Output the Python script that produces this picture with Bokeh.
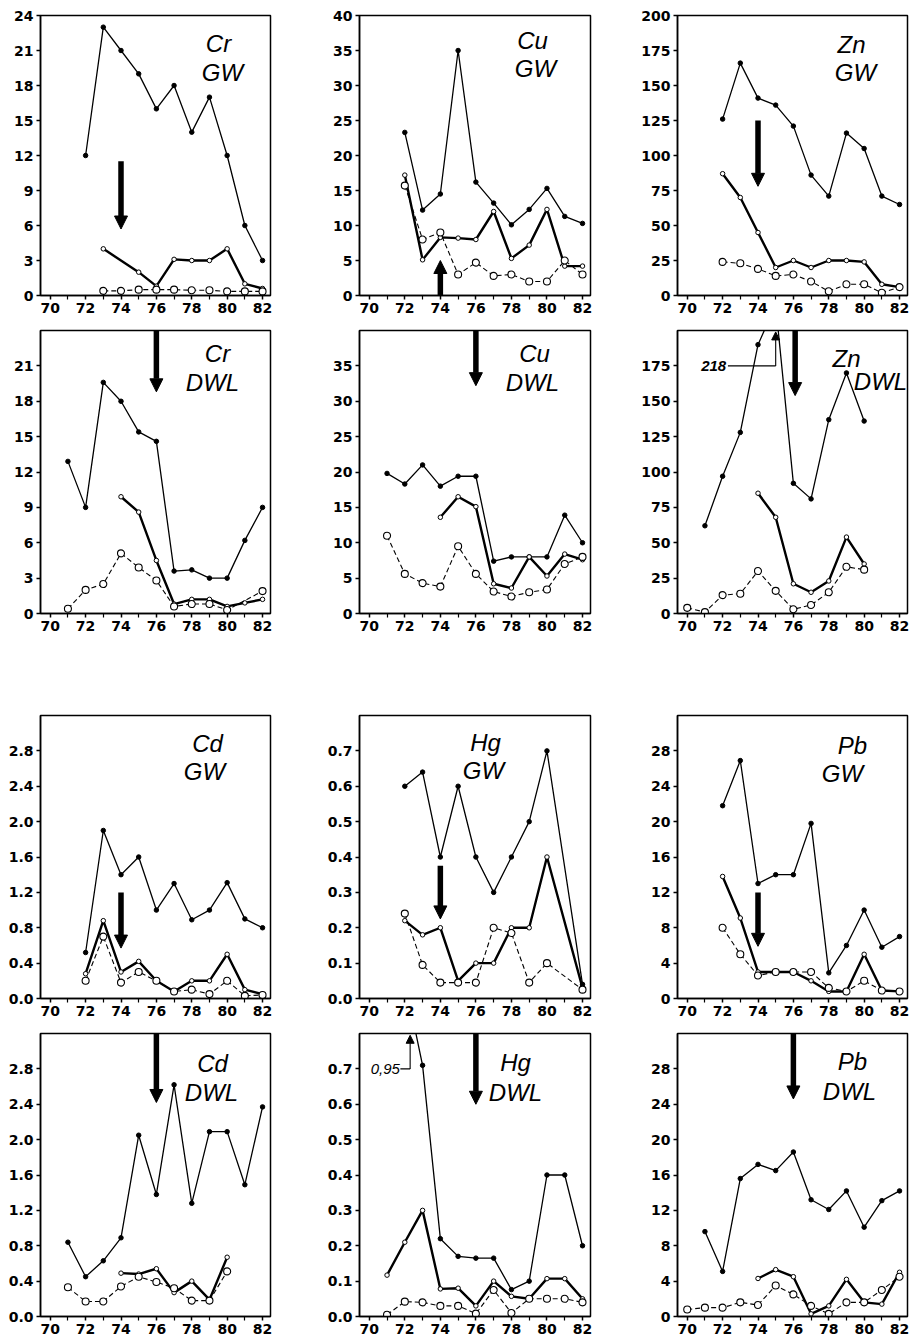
from bokeh.plotting import figure
from bokeh.layouts import column, row
from bokeh.models import FixedTicker, PrintfTickFormatter, Range1d, Label, Arrow, NormalHead
from bokeh.embed import file_html
from bokeh.resources import INLINE

# ---------------- data ----------------
x_ticks = [70, 72, 74, 76, 78, 80, 82]
x_minor = [71, 73, 75, 77, 79, 81]

# Cr GW
cr_gw_hi_x = [72, 73, 74, 75, 76, 77, 78, 79, 80, 81, 82]
cr_gw_hi = [12, 23, 21, 19, 16, 18, 14, 17, 12, 6, 3]
cr_gw_mid_x = [73, 75, 76, 77, 78, 79, 80, 81, 82]
cr_gw_mid = [4, 2, 0.8, 3.1, 3, 3, 4, 1, 0.6]
cr_gw_low_x = [73, 74, 75, 76, 77, 78, 79, 80, 81, 82]
cr_gw_low = [0.4, 0.4, 0.5, 0.5, 0.5, 0.45, 0.45, 0.35, 0.35, 0.35]

# Cu GW
cu_gw_hi_x = [72, 73, 74, 75, 76, 77, 78, 79, 80, 81, 82]
cu_gw_hi = [23.3, 12.2, 14.5, 35, 16.2, 13.2, 10.1, 12.3, 15.3, 11.3, 10.3]
cu_gw_mid_x = [72, 73, 74, 75, 76, 77, 78, 79, 80, 81, 82]
cu_gw_mid = [17.2, 5.1, 8.3, 8.2, 8, 12, 5.3, 7.2, 12.3, 4.2, 4.2]
cu_gw_low_x = [72, 73, 74, 75, 76, 77, 78, 79, 80, 81, 82]
cu_gw_low = [15.7, 8, 9, 3, 4.7, 2.8, 3, 2, 2, 5, 3]

# Zn GW
zn_gw_hi_x = [72, 73, 74, 75, 76, 77, 78, 79, 80, 81, 82]
zn_gw_hi = [126, 166, 141, 136, 121, 86, 71, 116, 105, 71, 65]
zn_gw_mid_x = [72, 73, 74, 75, 76, 77, 78, 79, 80, 81, 82]
zn_gw_mid = [87, 70, 45, 20, 25, 20, 25, 25, 24, 8, 6]
zn_gw_low_x = [72, 73, 74, 75, 76, 77, 78, 79, 80, 81, 82]
zn_gw_low = [24, 23, 19, 14, 15, 10, 3, 8, 8, 2, 6]

# Cr DWL
cr_dwl_hi_x = [71, 72, 73, 74, 75, 76, 77, 78, 79, 80, 81, 82]
cr_dwl_hi = [12.9, 9, 19.6, 18, 15.4, 14.6, 3.6, 3.7, 3, 3, 6.2, 9]
cr_dwl_mid_x = [74, 75, 76, 77, 78, 79, 80, 81, 82]
cr_dwl_mid = [9.9, 8.6, 4.5, 0.8, 1.2, 1.2, 0.6, 0.9, 1.2]
cr_dwl_low_x = [71, 72, 73, 74, 75, 76, 77, 78, 79, 80, 82]
cr_dwl_low = [0.4, 2, 2.5, 5.1, 3.9, 2.8, 0.6, 0.8, 0.8, 0.3, 1.9]

# Cu DWL
cu_dwl_hi_x = [71, 72, 73, 74, 75, 76, 77, 78, 79, 80, 81, 82]
cu_dwl_hi = [19.8, 18.3, 21, 18, 19.4, 19.4, 7.4, 8, 8, 8, 13.9, 10]
cu_dwl_mid_x = [74, 75, 76, 77, 78, 79, 80, 81, 82]
cu_dwl_mid = [13.6, 16.5, 15.1, 4.2, 3.6, 8, 5.3, 8.4, 7.6]
cu_dwl_low_x = [71, 72, 73, 74, 75, 76, 77, 78, 79, 80, 81, 82]
cu_dwl_low = [11, 5.6, 4.3, 3.8, 9.5, 5.6, 3.1, 2.4, 3, 3.4, 7, 8]

# Zn DWL
zn_dwl_hi_x = [71, 72, 73, 74, 75, 76, 77, 78, 79, 80]
zn_dwl_hi = [62, 97, 128, 190, 218, 92, 81, 137, 170, 136]
zn_dwl_mid_x = [74, 75, 76, 77, 78, 79, 80]
zn_dwl_mid = [85, 68, 21, 15, 23, 54, 35]
zn_dwl_low_x = [70, 71, 72, 73, 74, 75, 76, 77, 78, 79, 80]
zn_dwl_low = [4, 1, 13, 14, 30, 16, 3, 6, 15, 33, 31]

# Cd GW
cd_gw_hi_x = [72, 73, 74, 75, 76, 77, 78, 79, 80, 81, 82]
cd_gw_hi = [0.52, 1.9, 1.4, 1.6, 1.0, 1.3, 0.89, 1.0, 1.31, 0.9, 0.8]
cd_gw_mid_x = [72, 73, 74, 75, 76, 77, 78, 79, 80, 81, 82]
cd_gw_mid = [0.28, 0.88, 0.3, 0.42, 0.2, 0.08, 0.2, 0.2, 0.5, 0.1, 0.05]
cd_gw_low_x = [72, 73, 74, 75, 76, 77, 78, 79, 80, 81, 82]
cd_gw_low = [0.2, 0.7, 0.18, 0.3, 0.2, 0.08, 0.1, 0.05, 0.2, 0.03, 0.04]

# Hg GW
hg_gw_hi_x = [72, 73, 74, 75, 76, 77, 78, 79, 80, 82]
hg_gw_hi = [0.6, 0.64, 0.4, 0.6, 0.4, 0.3, 0.4, 0.5, 0.7, 0.04]
hg_gw_mid_x = [72, 73, 74, 75, 76, 77, 78, 79, 80, 82]
hg_gw_mid = [0.22, 0.18, 0.2, 0.05, 0.1, 0.1, 0.2, 0.2, 0.4, 0.03]
hg_gw_low_x = [72, 73, 74, 75, 76, 77, 78, 79, 80, 82]
hg_gw_low = [0.24, 0.095, 0.045, 0.045, 0.045, 0.2, 0.185, 0.045, 0.1, 0.025]

# Pb GW
pb_gw_hi_x = [72, 73, 74, 75, 76, 77, 78, 79, 80, 81, 82]
pb_gw_hi = [21.8, 26.9, 13, 14, 14, 19.8, 2.9, 6, 10, 5.8, 7]
pb_gw_mid_x = [72, 73, 74, 75, 76, 77, 78, 79, 80, 81, 82]
pb_gw_mid = [13.8, 9.1, 3, 3, 3, 2, 0.8, 0.8, 5, 0.9, 0.8]
pb_gw_low_x = [72, 73, 74, 75, 76, 77, 78, 79, 80, 81, 82]
pb_gw_low = [8, 5, 2.6, 3, 3, 3, 1.2, 0.8, 2, 0.9, 0.8]

# Cd DWL
cd_dwl_hi_x = [71, 72, 73, 74, 75, 76, 77, 78, 79, 80, 81, 82]
cd_dwl_hi = [0.84, 0.45, 0.63, 0.89, 2.05, 1.38, 2.62, 1.28, 2.09, 2.09, 1.49, 2.37]
cd_dwl_mid_x = [74, 75, 76, 77, 78, 79, 80]
cd_dwl_mid = [0.49, 0.48, 0.54, 0.27, 0.4, 0.19, 0.67]
cd_dwl_low_x = [71, 72, 73, 74, 75, 76, 77, 78, 79, 80]
cd_dwl_low = [0.33, 0.17, 0.17, 0.34, 0.45, 0.39, 0.32, 0.18, 0.18, 0.51]

# Hg DWL
hg_dwl_hi_x = [72, 73, 74, 75, 76, 77, 78, 79, 80, 81, 82]
hg_dwl_hi = [0.95, 0.71, 0.22, 0.17, 0.165, 0.165, 0.076, 0.1, 0.4, 0.4, 0.2]
hg_dwl_mid_x = [71, 72, 73, 74, 75, 76, 77, 78, 79, 80, 81, 82]
hg_dwl_mid = [0.117, 0.21, 0.3, 0.078, 0.08, 0.03, 0.1, 0.057, 0.05, 0.107, 0.107, 0.05]
hg_dwl_low_x = [71, 72, 73, 74, 75, 76, 77, 78, 79, 80, 81, 82]
hg_dwl_low = [0.005, 0.042, 0.04, 0.03, 0.03, 0.008, 0.075, 0.01, 0.05, 0.05, 0.05, 0.04]

# Pb DWL
pb_dwl_hi_x = [71, 72, 73, 74, 75, 76, 77, 78, 79, 80, 81, 82]
pb_dwl_hi = [9.6, 5.1, 15.6, 17.2, 16.5, 18.6, 13.2, 12.1, 14.2, 10.1, 13.1, 14.2]
pb_dwl_mid_x = [74, 75, 76, 77, 78, 79, 80, 81, 82]
pb_dwl_mid = [4.3, 5.3, 4.5, 0.3, 1.2, 4.2, 1.6, 1.4, 5]
pb_dwl_low_x = [70, 71, 72, 73, 74, 75, 76, 77, 78, 79, 80, 81, 82]
pb_dwl_low = [0.8, 1.0, 1.0, 1.6, 1.3, 3.5, 2.5, 1.2, 0.3, 1.6, 1.6, 3, 4.5]

# y tick labels
cr_ticks_gw = [0, 3, 6, 9, 12, 15, 18, 21, 24]
cr_ticks_dwl = [0, 3, 6, 9, 12, 15, 18, 21]
cu_ticks_gw = [0, 5, 10, 15, 20, 25, 30, 35, 40]
cu_ticks_dwl = [0, 5, 10, 15, 20, 25, 30, 35]
zn_ticks_gw = [0, 25, 50, 75, 100, 125, 150, 175, 200]
zn_ticks_dwl = [0, 25, 50, 75, 100, 125, 150, 175]
cd_ticks = [0.0, 0.4, 0.8, 1.2, 1.6, 2.0, 2.4, 2.8]
hg_ticks = [0.0, 0.1, 0.2, 0.3, 0.4, 0.5, 0.6, 0.7]
pb_ticks = [0, 4, 8, 12, 16, 20, 24, 28]

# ---------------- layout ----------------
X0, X1 = 69.45, 82.45
COL_FW = [230, 231, 230]
COL_LEFT = [40, 70, 70]
COL_RIGHT = [19, 17, 3]
ROW_FH = [280, 283, 283, 283]
ROW_TOP = [15, 8, 75, 8]
ROW_BOTTOM = [27, 27, 27, 26]

TICK_FONT = "DejaVu Sans"
LABEL_FONT = "Liberation Sans"


def make_panel(r, c, ymax, yticks, fmt, hi_x, hi, mid_x, mid, low_x, low,
               name1, name2, pos1, pos2, arrow):
    fw, fh = COL_FW[c], ROW_FH[r]
    p = figure(title=None, frame_width=fw, frame_height=fh,
               x_range=Range1d(X0, X1), y_range=Range1d(0, ymax),
               toolbar_location=None, output_backend="svg",
               min_border_left=COL_LEFT[c], min_border_right=COL_RIGHT[c],
               min_border_top=ROW_TOP[r], min_border_bottom=ROW_BOTTOM[r])
    p.grid.visible = False
    p.outline_line_color = "black"
    p.outline_line_width = 1.5
    p.background_fill_color = "white"
    p.border_fill_color = "white"

    p.xaxis.ticker = FixedTicker(ticks=x_ticks, minor_ticks=x_minor)
    p.yaxis.ticker = FixedTicker(ticks=yticks)
    if fmt:
        p.yaxis.formatter = PrintfTickFormatter(format=fmt)
    for ax in (p.xaxis, p.yaxis):
        ax.axis_line_color = "black"
        ax.axis_line_width = 1.5
        ax.major_tick_line_width = 1.5
        ax.major_tick_out = 4
        ax.major_tick_in = 0
        ax.minor_tick_out = 4
        ax.minor_tick_in = 0
        ax.minor_tick_line_width = 1.2
        ax.major_label_text_font = TICK_FONT
        ax.major_label_text_font_style = "bold"
        ax.major_label_text_font_size = "14px"
        ax.major_label_text_color = "black"
        ax.major_label_standoff = 3
    p.yaxis.minor_tick_line_color = None

    # thin line with filled dots
    p.line(hi_x, hi, line_color="black", line_width=1.3)
    p.scatter(hi_x, hi, size=4.5, marker="circle", fill_color="black", line_color="black")
    # thick line with small open circles
    p.line(mid_x, mid, line_color="black", line_width=2.4)
    p.scatter(mid_x, mid, size=4.5, marker="circle", fill_color="white", line_color="black", line_width=1)
    # dashed line with larger open circles
    p.line(low_x, low, line_color="black", line_width=1.1, line_dash="5 3")
    p.scatter(low_x, low, size=7, marker="circle", fill_color="white", line_color="black", line_width=1.1)

    def to_data(dx, dy):
        return (X0 + dx * (X1 - X0) / fw, ymax - dy * ymax / fh)

    for txt, (dx, dy) in ((name1, pos1), (name2, pos2)):
        lx, ly = to_data(dx, dy - 4)
        p.add_layout(Label(x=lx, y=ly, text=txt, text_font=LABEL_FONT,
                           text_font_style="italic", text_font_size="24px",
                           text_align="center", text_baseline="top", text_color="black"))

    ax_, ys, ye = arrow
    p.add_layout(Arrow(end=NormalHead(size=13, fill_color="black", line_color="black", line_width=1),
                       x_start=ax_, y_start=ys, x_end=ax_, y_end=ye,
                       line_width=5.5, line_color="black"))
    return p


panels = []
panels.append(make_panel(0, 0, 24, cr_ticks_gw, None, cr_gw_hi_x, cr_gw_hi, cr_gw_mid_x, cr_gw_mid,
                         cr_gw_low_x, cr_gw_low, "Cr", "GW", (178, 18), (182, 47), (74, 11.5, 5.7)))
panels.append(make_panel(0, 1, 40, cu_ticks_gw, None, cu_gw_hi_x, cu_gw_hi, cu_gw_mid_x, cu_gw_mid,
                         cu_gw_low_x, cu_gw_low, "Cu", "GW", (173, 15), (176, 43), (74, 0, 5.0)))
panels.append(make_panel(0, 2, 200, zn_ticks_gw, None, zn_gw_hi_x, zn_gw_hi, zn_gw_mid_x, zn_gw_mid,
                         zn_gw_low_x, zn_gw_low, "Zn", "GW", (174, 19), (178, 47), (74, 125, 78)))
panels.append(make_panel(1, 0, 24, cr_ticks_dwl, None, cr_dwl_hi_x, cr_dwl_hi, cr_dwl_mid_x, cr_dwl_mid,
                         cr_dwl_low_x, cr_dwl_low, "Cr", "DWL", (177, 13), (172, 42), (76, 24, 18.8)))
panels.append(make_panel(1, 1, 40, cu_ticks_dwl, None, cu_dwl_hi_x, cu_dwl_hi, cu_dwl_mid_x, cu_dwl_mid,
                         cu_dwl_low_x, cu_dwl_low, "Cu", "DWL", (175, 13), (173, 42), (76, 40, 32.2)))
panels.append(make_panel(1, 2, 200, zn_ticks_dwl, None, zn_dwl_hi_x, zn_dwl_hi, zn_dwl_mid_x, zn_dwl_mid,
                         zn_dwl_low_x, zn_dwl_low, "Zn", "DWL", (169, 18), (203, 41), (76.1, 200, 154)))
panels.append(make_panel(2, 0, 3.2, cd_ticks, "%.1f", cd_gw_hi_x, cd_gw_hi, cd_gw_mid_x, cd_gw_mid,
                         cd_gw_low_x, cd_gw_low, "Cd", "GW", (167, 18), (164, 46), (74, 1.2, 0.57)))
panels.append(make_panel(2, 1, 0.8, hg_ticks, "%.1f", hg_gw_hi_x, hg_gw_hi, hg_gw_mid_x, hg_gw_mid,
                         hg_gw_low_x, hg_gw_low, "Hg", "GW", (126, 17), (124, 45), (74, 0.375, 0.225)))
panels.append(make_panel(2, 2, 32, pb_ticks, None, pb_gw_hi_x, pb_gw_hi, pb_gw_mid_x, pb_gw_mid,
                         pb_gw_low_x, pb_gw_low, "Pb", "GW", (175, 20), (165, 48), (74, 12, 5.9)))
panels.append(make_panel(3, 0, 3.2, cd_ticks, "%.1f", cd_dwl_hi_x, cd_dwl_hi, cd_dwl_mid_x, cd_dwl_mid,
                         cd_dwl_low_x, cd_dwl_low, "Cd", "DWL", (172, 20), (171, 49), (76, 3.2, 2.42)))
panels.append(make_panel(3, 1, 0.8, hg_ticks, "%.1f", hg_dwl_hi_x, hg_dwl_hi, hg_dwl_mid_x, hg_dwl_mid,
                         hg_dwl_low_x, hg_dwl_low, "Hg", "DWL", (156, 19), (156, 49), (76, 0.8, 0.6)))
panels.append(make_panel(3, 2, 32, pb_ticks, None, pb_dwl_hi_x, pb_dwl_hi, pb_dwl_mid_x, pb_dwl_mid,
                         pb_dwl_low_x, pb_dwl_low, "Pb", "DWL", (175, 18), (172, 48), (76, 32, 24.6)))

# off-scale annotations
zn_dwl = panels[5]
zn_dwl.line([72.3, 75.0], [175, 175], line_color="black", line_width=1.1)
zn_dwl.add_layout(Arrow(end=NormalHead(size=8, fill_color="black", line_color="black", line_width=1),
                        x_start=75.0, y_start=175, x_end=75.0, y_end=199, line_width=1.1,
                        line_color="black"))
zn_dwl.add_layout(Label(x=72.2, y=175, text="218", text_font=LABEL_FONT, text_font_style="bold italic",
                        text_font_size="15px", text_align="right", text_baseline="middle",
                        text_color="black"))

hg_dwl = panels[10]
hg_dwl.line([71.75, 72.3], [0.70, 0.70], line_color="black", line_width=1.1)
hg_dwl.add_layout(Arrow(end=NormalHead(size=8, fill_color="black", line_color="black", line_width=1),
                        x_start=72.3, y_start=0.70, x_end=72.3, y_end=0.795, line_width=1.1,
                        line_color="black"))
hg_dwl.add_layout(Label(x=71.72, y=0.70, text="0,95", text_font=LABEL_FONT, text_font_style="italic",
                        text_font_size="15px", text_align="right", text_baseline="middle",
                        text_color="black"))

layout = column(row(*panels[0:3]), row(*panels[3:6]), row(*panels[6:9]), row(*panels[9:12]))

open("out.html", "w").write(file_html(layout, INLINE))
